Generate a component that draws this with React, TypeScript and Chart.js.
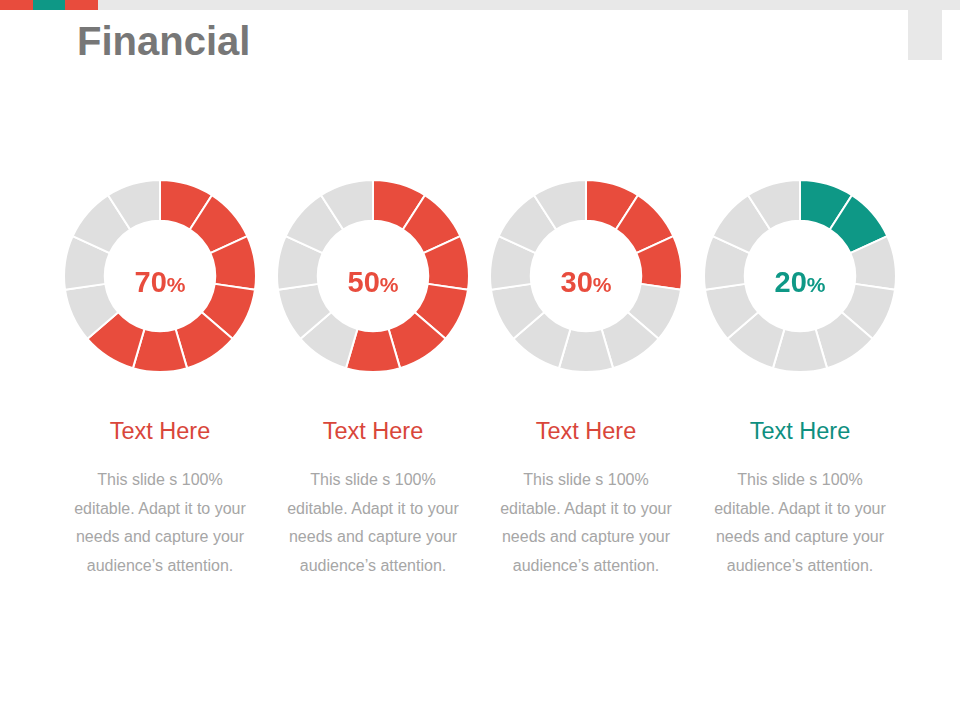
import React, { useEffect, useRef } from "react";
import Chart from "chart.js/auto";

// values shown in the centre of each ring
const percentLabels = [70, 50, 30, 20];
// how many of the 11 ring segments are coloured
const filledSegments = [7, 6, 3, 2];
// each ring is 11 equal pieces
const segmentValues = [1, 1, 1, 1, 1, 1, 1, 1, 1, 1, 1];
const headings = ["Text Here", "Text Here", "Text Here", "Text Here"];
const accents = ["#e84c3d", "#e84c3d", "#e84c3d", "#0e9886"];
const headingColors = ["#d9463a", "#d9463a", "#d9463a", "#0e8f7f"];
const centersX = [160, 373, 586, 800];

const GREY = "#dfdfdf";
const FONT = '"Liberation Sans", Arial, Helvetica, sans-serif';

function Ring({ index }: { index: number }) {
  const ref = useRef<HTMLCanvasElement | null>(null);

  useEffect(() => {
    if (!ref.current) return;
    const colors = segmentValues.map((_, i) =>
      i < filledSegments[index] ? accents[index] : GREY
    );
    const chart = new Chart(ref.current, {
      type: "doughnut",
      data: {
        labels: segmentValues.map((_, i) => `s${i + 1}`),
        datasets: [
          {
            data: segmentValues,
            backgroundColor: colors,
            borderColor: "#ffffff",
            borderWidth: 2,
            hoverOffset: 0
          }
        ]
      },
      options: {
        animation: false,
        responsive: false,
        radius: 96,
        cutout: 57,
        layout: { padding: 0 },
        plugins: {
          legend: { display: false },
          tooltip: { enabled: false }
        },
        events: []
      }
    });
    return () => chart.destroy();
  }, [index]);

  const cx = centersX[index];
  return (
    <>
      <div
        style={{
          position: "absolute",
          left: cx - 100,
          top: 176,
          width: 200,
          height: 200
        }}
      >
        <canvas ref={ref} width={200} height={200} />
      </div>
      <div
        style={{
          position: "absolute",
          left: cx - 60,
          top: 266,
          width: 120,
          textAlign: "center",
          fontFamily: FONT,
          fontWeight: 700,
          color: accents[index],
          lineHeight: "32px"
        }}
      >
        <span style={{ fontSize: 29 }}>{percentLabels[index]}</span>
        <span style={{ fontSize: 21 }}>%</span>
      </div>
      <div
        style={{
          position: "absolute",
          left: cx - 100,
          top: 420,
          width: 200,
          textAlign: "center",
          fontFamily: FONT,
          fontSize: 23.5,
          lineHeight: "23.5px",
          color: headingColors[index]
        }}
      >
        {headings[index]}
      </div>
      <div
        style={{
          position: "absolute",
          left: cx - 100,
          top: 466,
          width: 200,
          textAlign: "center",
          fontFamily: FONT,
          fontSize: 16,
          lineHeight: "28.7px",
          color: "#a6a6a6"
        }}
      >
        This slide s 100%
        <br />
        editable. Adapt it to your
        <br />
        needs and capture your
        <br />
        audience’s attention.
      </div>
    </>
  );
}

export default function App() {
  return (
    <div
      style={{
        position: "absolute",
        left: 0,
        top: 0,
        width: 960,
        height: 720,
        background: "#ffffff",
        overflow: "hidden"
      }}
    >
      {/* top strip */}
      <div style={{ position: "absolute", left: 0, top: 0, width: 960, height: 10, background: "#e8e8e8" }} />
      <div style={{ position: "absolute", left: 0, top: 0, width: 33, height: 10, background: "#e84c3d" }} />
      <div style={{ position: "absolute", left: 33, top: 0, width: 32, height: 10, background: "#0e9886" }} />
      <div style={{ position: "absolute", left: 65, top: 0, width: 33, height: 10, background: "#e84c3d" }} />
      <div style={{ position: "absolute", left: 908, top: 10, width: 34, height: 50, background: "#e8e8e8" }} />

      <div
        style={{
          position: "absolute",
          left: 77,
          top: 21,
          fontFamily: FONT,
          fontWeight: 700,
          fontSize: 40,
          lineHeight: "40px",
          color: "#777777"
        }}
      >
        Financial
      </div>

      {percentLabels.map((_, i) => (
        <Ring key={i} index={i} />
      ))}
    </div>
  );
}
